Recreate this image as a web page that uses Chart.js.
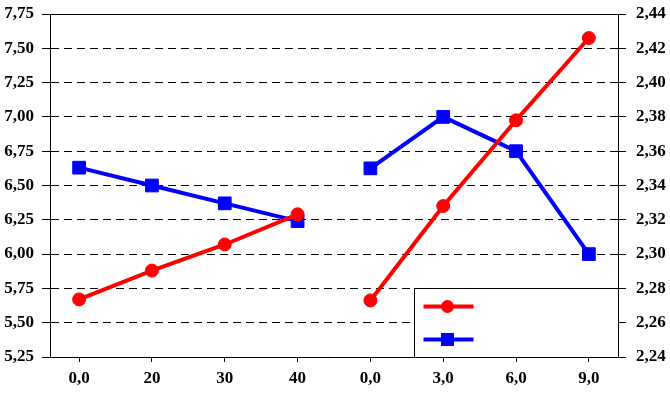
<!DOCTYPE html>
<html>
<head>
<meta charset="utf-8">
<script src="https://cdn.jsdelivr.net/npm/chart.js@4/dist/chart.umd.min.js"></script>
<style>
  html, body { margin: 0; padding: 0; background: #fff; }
  #wrap { width: 670px; height: 393px; }
</style>
</head>
<body>
<div id="wrap"><canvas id="myChart" width="670" height="393"></canvas></div>
<script>
// categories along the bottom (two groups of four)
const xLabels = ["0,0", "20", "30", "40", "0,0", "3,0", "6,0", "9,0"];

// first group, read on the left axis
const redLeft = [5.67, 5.88, 6.07, 6.29];
const blueLeft = [6.63, 6.50, 6.37, 6.24];

// second group, read on the right axis
const redRight = [2.273, 2.328, 2.378, 2.426];
const blueRight = [2.350, 2.380, 2.360, 2.300];

// axis ranges
const leftMin = 5.25, leftMax = 7.75, leftStep = 0.25;
const rightMin = 2.24, rightMax = 2.44, rightStep = 0.02;

const RED = "#ff0000";
const BLUE = "#0000ff";

function toPoints(arr, start) {
	return arr.map((v, i) => ({ x: i + start, y: v }));
}

function comma(v) {
	return v.toFixed(2).replace(".", ",");
}

function makeTicks(min, max, step) {
	const t = [];
	const n = Math.round((max - min) / step);
	for (let i = 0; i <= n; i++) t.push({ value: +(min + i * step).toFixed(4) });
	return t;
}

// drop the extra room Chart.js keeps for the end labels
function noPad(s) {
	s.paddingTop = 0;
	s.paddingBottom = 0;
	s.paddingLeft = 0;
	s.paddingRight = 0;
}

Chart.defaults.font.family = "'Liberation Serif', 'Times New Roman', serif";
Chart.defaults.font.size = 17;
Chart.defaults.font.weight = "bold";
Chart.defaults.color = "#000";

// frame on top and the legend box in the lower right corner
const framePlugin = {
	id: "frame",
	afterDraw(chart) {
		const ctx = chart.ctx;
		const a = chart.chartArea;
		const xs = chart.scales.x;
		const ys = chart.scales.y;
		ctx.save();
		ctx.strokeStyle = "#000";
		ctx.lineWidth = 1;
		ctx.beginPath();
		ctx.moveTo(a.left, Math.round(a.top) + 0.5);
		ctx.lineTo(a.right, Math.round(a.top) + 0.5);
		ctx.stroke();

		// legend (no text in the original)
		const lx = Math.round(xs.getPixelForValue(4.6)) + 0.5;
		const ly = Math.round(ys.getPixelForValue(5.75)) + 0.5;
		const rx = Math.round(a.right) + 0.5;
		const by = Math.round(a.bottom) + 0.5;
		ctx.fillStyle = "#fff";
		ctx.fillRect(lx, ly, rx - lx, by - ly);
		ctx.strokeRect(lx, ly, rx - lx, by - ly);

		const x0 = lx + 9, x1 = lx + 59, xm = lx + 33;
		const rows = [
			{ y: ly + 18, color: RED, style: "circle" },
			{ y: ly + 51, color: BLUE, style: "rect" }
		];
		rows.forEach(r => {
			ctx.strokeStyle = r.color;
			ctx.fillStyle = r.color;
			ctx.lineWidth = 4;
			ctx.beginPath();
			ctx.moveTo(x0, r.y);
			ctx.lineTo(x1, r.y);
			ctx.stroke();
			if (r.style === "circle") {
				ctx.beginPath();
				ctx.arc(xm, r.y, 6.5, 0, Math.PI * 2);
				ctx.fill();
			} else {
				ctx.fillRect(xm - 6.5, r.y - 6.5, 13, 13);
			}
		});
		ctx.restore();
	}
};

function series(data, color, style, axis) {
	return {
		data: data,
		yAxisID: axis,
		borderColor: color,
		backgroundColor: color,
		borderWidth: 4,
		pointStyle: style,
		pointRadius: style === "rect" ? 9 : 6.5,
		pointBorderWidth: 1,
		pointBorderColor: color,
		pointBackgroundColor: color,
		tension: 0,
		fill: false
	};
}

var ctx = document.getElementById("myChart").getContext("2d");
var myChart = new Chart(ctx, {
	type: "line",
	data: {
		datasets: [
			series(toPoints(redLeft, 0), RED, "circle", "y"),
			series(toPoints(blueLeft, 0), BLUE, "rect", "y"),
			series(toPoints(redRight, 4), RED, "circle", "y1"),
			series(toPoints(blueRight, 4), BLUE, "rect", "y1")
		]
	},
	options: {
		responsive: false,
		animation: false,
		devicePixelRatio: 1,
		layout: { padding: { top: 14, left: 0, right: 0, bottom: 0 } },
		plugins: {
			legend: { display: false },
			tooltip: { enabled: false }
		},
		scales: {
			x: {
				type: "linear",
				min: -0.4,
				max: 7.4,
				afterBuildTicks: s => { s.ticks = xLabels.map((l, i) => ({ value: i })); },
				afterFit: s => { s.height = 36; noPad(s); },
				ticks: {
					callback: v => xLabels[v],
					padding: 6,
					maxRotation: 0,
					autoSkip: false
				},
				grid: { drawOnChartArea: false, tickLength: 5, color: "#000" },
				border: { color: "#000", width: 1 }
			},
			y: {
				position: "left",
				min: leftMin,
				max: leftMax,
				afterBuildTicks: s => { s.ticks = makeTicks(leftMin, leftMax, leftStep); },
				afterFit: s => { s.width = 50; noPad(s); },
				ticks: { callback: v => comma(v), padding: 8 },
				grid: { color: "#000", tickLength: 8, tickBorderDash: [] },
				border: { color: "#000", width: 1, dash: [8, 5] }
			},
			y1: {
				position: "right",
				min: rightMin,
				max: rightMax,
				afterBuildTicks: s => { s.ticks = makeTicks(rightMin, rightMax, rightStep); },
				afterFit: s => { s.width = 52; noPad(s); },
				ticks: { callback: v => comma(v), padding: 10 },
				grid: { drawOnChartArea: false, color: "#000", tickLength: 8 },
				border: { color: "#000", width: 1 }
			}
		}
	},
	plugins: [framePlugin]
});
</script>
</body>
</html>
